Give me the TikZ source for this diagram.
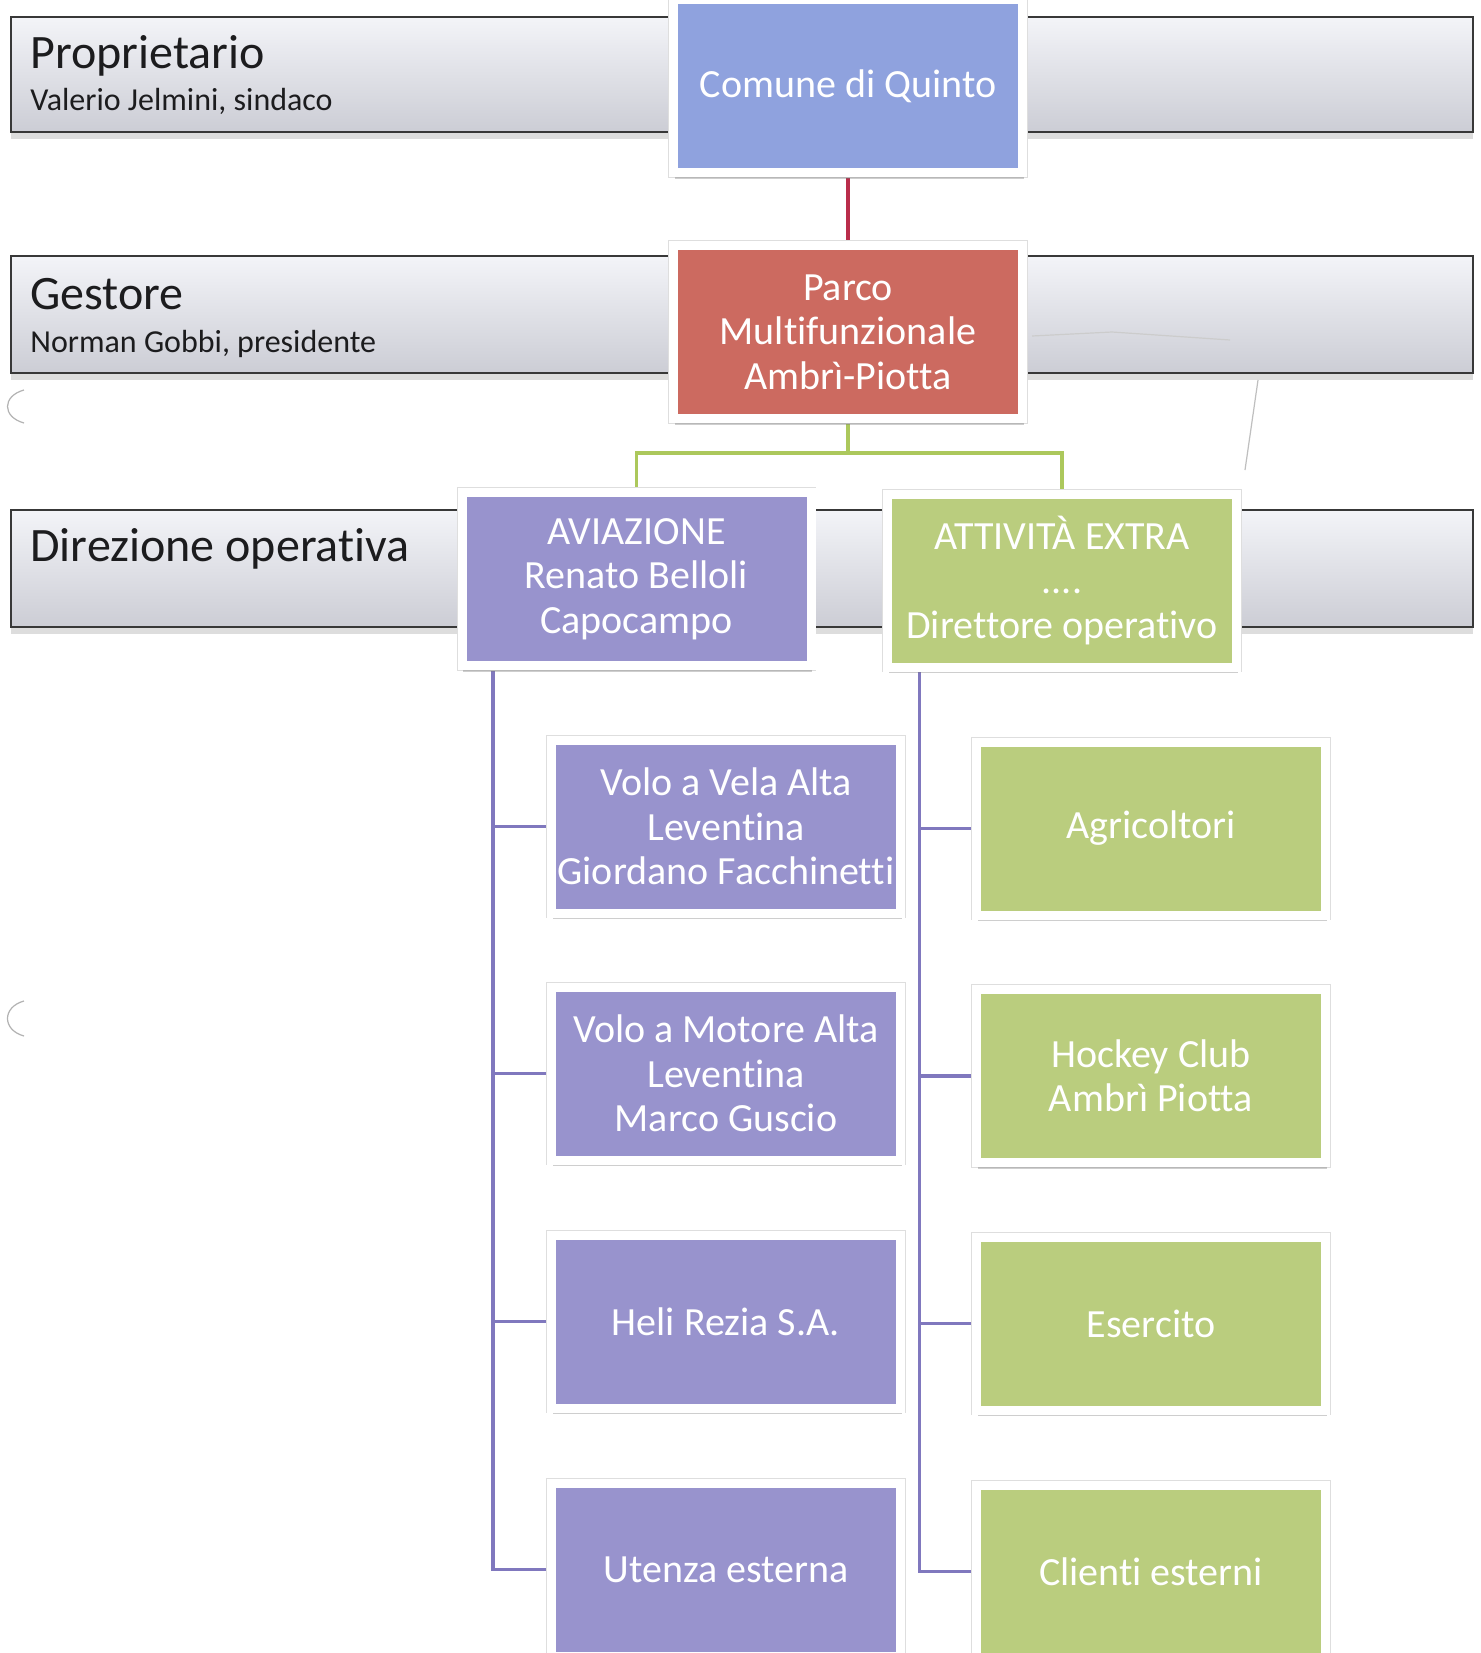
\documentclass[tikz,border=0pt]{standalone}
\usepackage{fontspec}
\setmainfont{Carlito}[Ligatures=NoCommon]
\usetikzlibrary{shadows,calc}
\definecolor{cblue}{RGB}{143,162,222}
\definecolor{cred}{RGB}{204,106,96}
\definecolor{cpurp}{RGB}{152,147,205}
\definecolor{cgreen}{RGB}{186,205,126}
\definecolor{lpurp}{RGB}{128,120,190}
\definecolor{lred}{RGB}{185,45,75}
\definecolor{lgreen}{RGB}{172,200,92}
\definecolor{btop}{RGB}{243,244,248}
\definecolor{bbot}{RGB}{204,205,213}
\definecolor{ink}{RGB}{28,28,30}
\pgfdeclarelayer{paper}
\pgfdeclarelayer{bands}
\pgfdeclarelayer{links}
\pgfsetlayers{paper,bands,links,main}
\tikzset{
  orgbox/.style={rectangle, fill=#1, draw=white, line width=4.5pt, inner sep=0pt,
    minimum width=174.5pt, minimum height=86.5pt, align=center, text=white,
    font=\fontsize{20}{22.2}\selectfont,
    preaction={draw=black!13, line width=5.3pt},
    drop shadow={shadow xshift=0.6pt, shadow yshift=-3.2pt, opacity=0.35, fill=black!55}},
  band/.style={top color=btop, bottom color=bbot, draw=black!78, line width=0.9pt,
    drop shadow={shadow xshift=0pt, shadow yshift=-3.5pt, opacity=0.22, fill=black!60}},
  bigtxt/.style={anchor=base west, inner sep=0pt, text=ink, font=\fontsize{24}{28}\selectfont},
  smalltxt/.style={anchor=base west, inner sep=0pt, text=ink, font=\fontsize{16}{19}\selectfont},
  plink/.style={draw=lpurp, line width=1.8pt},
  rlink/.style={draw=lred, line width=1.8pt},
  glink/.style={draw=lgreen, line width=1.8pt},
  scanmark/.style={draw=black!30, line width=0.6pt}
}
\begin{document}
\begin{tikzpicture}[x=0.5pt,y=-0.5pt]
\useasboundingbox (0,0) rectangle (1480,1653);
\begin{pgfonlayer}{paper}
\fill[white] (0,0) rectangle (1480,1653);
\end{pgfonlayer}

% bands
\begin{pgfonlayer}{bands}
\path[band] (11,17) rectangle (1473,132);
\path[band] (11,256) rectangle (1473,373);
\path[band] (11,510) rectangle (1473,627);
\draw[scanmark] (24,390) .. controls (2,396) and (2,417) .. (24,423);
\draw[scanmark] (24,1001) .. controls (2,1007) and (2,1030) .. (24,1036);
\draw[scanmark, draw=black!25] (1258,380) -- (1245,470);
\draw[scanmark, draw=black!20] (1032,336) -- (1112,332) -- (1230,340);
\end{pgfonlayer}

\node[bigtxt] (t1) at (30,69) {Proprietario};
\node[smalltxt] (s1) at (30,111) {Valerio Jelmini, sindaco};
\node[bigtxt] (t2) at (30,309) {Gestore};
\node[smalltxt] (s2) at (30,352) {Norman Gobbi, presidente};
\node[bigtxt] (t3) at (30,561) {Direzione operativa};

% boxes
\node[orgbox=cblue] (comune) at (848,86) {Comune di Quinto};
\node[orgbox=cred] (parco) at (848,332) {Parco\\Multifunzionale\\Ambrì-Piotta};
\node[orgbox=cpurp] (avi) at (636.5,579) {AVIAZIONE\\Renato Belloli\\Capocampo};
\node[orgbox=cgreen] (att) at (1062,580.5) {ATTIVITÀ EXTRA\\....\\Direttore operativo};

\node[orgbox=cpurp] (vela) at (726,826.5) {Volo a Vela Alta\\Leventina\\Giordano Facchinetti};
\node[orgbox=cpurp] (motore) at (726,1073.5) {Volo a Motore Alta\\Leventina\\Marco Guscio};
\node[orgbox=cpurp] (heli) at (726,1321.5) {Heli Rezia S.A.};
\node[orgbox=cpurp] (utenza) at (726,1569.5) {Utenza esterna};

\node[orgbox=cgreen] (agri) at (1151,828.5) {Agricoltori};
\node[orgbox=cgreen] (hockey) at (1151,1076) {Hockey Club\\Ambrì Piotta};
\node[orgbox=cgreen] (eserc) at (1151,1323.5) {Esercito};
\node[orgbox=cgreen] (clienti) at (1151,1571.5) {Clienti esterni};

% connectors
\begin{pgfonlayer}{links}
\draw[rlink] (comune.south) -- (parco.north);
\coordinate (gj) at (848,453);
\draw[glink] (parco.south) -- (gj);
\draw[glink] (gj) -| (avi.north);
\draw[glink] (gj) -| (att.north);
\coordinate (la) at ($(avi.south west)+(35.5,0)$);
\draw[plink] (la) |- (vela.west);
\draw[plink] (la) |- (motore.west);
\draw[plink] (la) |- (heli.west);
\draw[plink] (la) |- (utenza.west);
\coordinate (ra) at ($(att.south west)+(36.5,0)$);
\draw[plink] (ra) |- (agri.west);
\draw[plink] (ra) |- (hockey.west);
\draw[plink] (ra) |- (eserc.west);
\draw[plink] (ra) |- (clienti.west);
\end{pgfonlayer}
\end{tikzpicture}
\end{document}
